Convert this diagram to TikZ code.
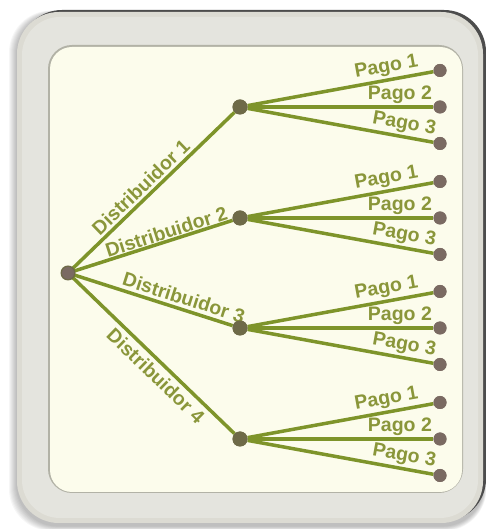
\documentclass[tikz,border=0pt]{standalone}
\usepackage{fontspec}
\newfontfamily\labfont{Liberation Sans}
\definecolor{frame}{RGB}{220,219,211}
\definecolor{panel}{RGB}{252,252,236}
\definecolor{rim}{RGB}{178,178,166}
\definecolor{branchc}{RGB}{126,148,42}
\definecolor{labc}{RGB}{138,150,58}
\definecolor{hubc}{RGB}{110,106,72}
\definecolor{leafc}{RGB}{122,106,98}
\begin{document}
\begin{tikzpicture}[x=1pt,y=1pt,
  branch/.style={draw=branchc,line width=3.5pt},
  hub/.style={circle,fill=hubc,inner sep=0pt,minimum size=15pt},
  leafdot/.style={circle,fill=leafc,inner sep=0pt,minimum size=13pt},
  rootdot/.style={circle,fill=leafc,inner sep=0pt,minimum size=12pt},
  lab/.style={text=labc,font=\labfont\bfseries\fontsize{19.5}{21}\selectfont,sloped,inner sep=1.5pt},
  paylab/.style={lab,above,inner sep=2pt}]
\useasboundingbox (0,0) rectangle (486,529);
% soft drop shadow of the frame
\foreach \s in {1,...,8}
  \fill[black,opacity=0.035,rounded corners=42pt] (17-\s,3-0.6*\s) rectangle (484+0.3*\s,516+0.3*\s);
% dark rim along the top and right edge
\fill[black!70,rounded corners=42pt] (20,8) rectangle (486,519);
% frame
\fill[frame,rounded corners=42pt] (17,6) rectangle (483,517);
\fill[white,opacity=0.25,rounded corners=38pt] (22,11) rectangle (478,512);
% inner panel
\fill[rim,rounded corners=24pt] (48,36) rectangle (463,484);
\fill[panel,rounded corners=22pt] (50,37) rectangle (462,482);

% tree
\node[rootdot] (r) at (68,256) {};
\node[hub] (d1) at (240,422) {};
\node[hub] (d2) at (240,311) {};
\node[hub] (d3) at (240,201) {};
\node[hub] (d4) at (240,90) {};
\foreach \d/\y in {1/422,2/311,3/201,4/90}{
  \node[leafdot] (p\d a) at (440,\y+36.5) {};
  \node[leafdot] (p\d b) at (440,\y) {};
  \node[leafdot] (p\d c) at (440,\y-36.5) {};
  \draw[branch] (d\d) -- node[paylab,pos=.76] {Pago 1} (p\d a);
  \draw[branch] (d\d) -- node[paylab,pos=.82] {Pago 2} (p\d b);
  \draw[branch] (d\d) -- node[paylab,pos=.83] {Pago 3} (p\d c);
}
\draw[branch] (r) -- node[lab,above,pos=.47,inner sep=2.5pt] {Distribuidor 1} (d1);
\draw[branch] (r) -- node[lab,above,pos=.6,inner sep=0.5pt] {Distribuidor 2} (d2);
\draw[branch] (r) -- node[lab,above,pos=.67,inner sep=3pt] {Distribuidor 3} (d3);
\draw[branch] (r) -- node[lab,below,pos=.57,inner sep=4pt] {Distribuidor 4} (d4);
% redraw dots over line ends
\foreach \n in {r,d1,d2,d3,d4}{\fill[hubc] (\n) circle (7.5pt);}
\fill[leafc] (r) circle (6pt);
\foreach \d in {1,2,3,4}{\foreach \k in {a,b,c}{\fill[leafc] (p\d\k) circle (6.5pt);}}
\end{tikzpicture}
\end{document}
